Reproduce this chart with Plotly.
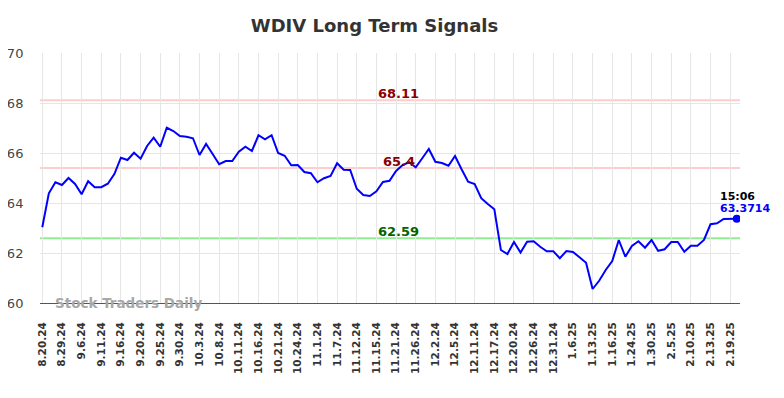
import plotly.graph_objects as go

tick_labels = ["8.20.24", "8.29.24", "9.6.24", "9.11.24", "9.16.24", "9.20.24", "9.25.24",
               "9.30.24", "10.3.24", "10.8.24", "10.11.24", "10.16.24", "10.21.24", "10.24.24",
               "11.1.24", "11.7.24", "11.12.24", "11.15.24", "11.21.24", "11.26.24", "12.2.24",
               "12.5.24", "12.11.24", "12.17.24", "12.20.24", "12.26.24", "12.31.24", "1.6.25",
               "1.13.25", "1.16.25", "1.24.25", "1.30.25", "2.5.25", "2.10.25", "2.13.25", "2.19.25"]

prices = [63.03, 64.39, 64.83, 64.72, 65.00, 64.76, 64.35, 64.87, 64.63, 64.63,
          64.77, 65.16, 65.81, 65.72, 66.01, 65.77, 66.28, 66.61, 66.25, 67.01,
          66.88, 66.68, 66.65, 66.59, 65.92, 66.36, 65.96, 65.55, 65.68, 65.68,
          66.05, 66.25, 66.08, 66.71, 66.55, 66.71, 66.00, 65.89, 65.51, 65.52,
          65.24, 65.19, 64.83, 64.99, 65.08, 65.59, 65.33, 65.32, 64.57, 64.32,
          64.28, 64.47, 64.84, 64.89, 65.28, 65.52, 65.63, 65.43, 65.79, 66.16,
          65.65, 65.60, 65.49, 65.88, 65.35, 64.85, 64.76, 64.19, 63.96, 63.75,
          62.12, 61.96, 62.44, 62.02, 62.45, 62.47, 62.25, 62.07, 62.07, 61.79,
          62.08, 62.04, 61.83, 61.61, 60.56, 60.89, 61.32, 61.68, 62.52, 61.85,
          62.28, 62.47, 62.21, 62.52, 62.09, 62.15, 62.44, 62.44, 62.05, 62.29,
          62.29, 62.52, 63.15, 63.19, 63.36, 63.36, 63.3714]

signal_levels = [68.11, 65.4, 62.59]
signal_colors = ["#ffcccc", "#ffcccc", "#90ee90"]
signal_text_colors = ["#8b0000", "#8b0000", "#006400"]
signal_labels = ["68.11", "65.4", "62.59"]

last_time = "15:06"
last_label = "63.3714"

x_idx = list(range(len(prices)))
tick_step = 3

fig = go.Figure()

for lvl, col in zip(signal_levels, signal_colors):
    fig.add_shape(type="line", xref="paper", x0=0, x1=1, yref="y", y0=lvl, y1=lvl,
                  line=dict(color=col, width=2), layer="below")

fig.add_trace(go.Scatter(x=x_idx, y=prices, mode="lines",
                         line=dict(color="#0000ff", width=2), hoverinfo="skip",
                         showlegend=False))
fig.add_trace(go.Scatter(x=[x_idx[-1]], y=[prices[-1]], mode="markers",
                         marker=dict(color="#0000ff", size=8), showlegend=False))

mid_x = 54.4
for lvl, lab, tc in zip(signal_levels, signal_labels, signal_text_colors):
    fig.add_annotation(x=mid_x, y=lvl, text=f"<b>{lab}</b>", showarrow=False,
                       yshift=7, font=dict(size=13, color=tc, family="DejaVu Sans"))

fig.add_annotation(x=x_idx[-1], y=prices[-1], text=f"<b>{last_time}</b>", showarrow=False,
                   yshift=22, xshift=1, font=dict(size=11, color="#000000", family="DejaVu Sans"))
fig.add_annotation(x=x_idx[-1], y=prices[-1], text=f"<b>{last_label}</b>", showarrow=False,
                   yshift=10, xshift=8, font=dict(size=11, color="#0000ff", family="DejaVu Sans"))

fig.add_annotation(xref="paper", yref="y", x=0.019, y=60, xanchor="left", yanchor="middle",
                   text="<b>Stock Traders Daily</b>", showarrow=False,
                   font=dict(size=13.5, color="#a8a8a8", family="DejaVu Sans"))

fig.update_layout(
    width=776, height=390,
    margin=dict(l=32, r=44, t=45, b=95),
    paper_bgcolor="white", plot_bgcolor="white",
    title=dict(text="<b>WDIV Long Term Signals</b>", x=0.4723, xanchor="center",
               y=0.954, yanchor="middle",
               font=dict(size=18, color="#333333", family="DejaVu Sans")),
    font=dict(family="DejaVu Sans"),
    xaxis=dict(range=[-0.35, 106.5], tickmode="array", automargin=False,
               tickvals=x_idx[::tick_step], ticktext=tick_labels, tickangle=-90,
               showgrid=True, gridcolor="#e6e6e6", gridwidth=1,
               showline=True, linecolor="#555555", linewidth=1,
               ticks="outside", ticklen=14, tickcolor="rgba(0,0,0,0)",
               tickfont=dict(size=10.5, color="#333333", family="DejaVu Sans", weight="bold"),
               zeroline=False),
    yaxis=dict(range=[60, 70], tickvals=[60, 62, 64, 66, 68, 70], automargin=False,
               showgrid=True, gridcolor="#e6e6e6", gridwidth=1,
               showline=False, zeroline=False,
               ticks="outside", ticklen=13, tickcolor="rgba(0,0,0,0)",
               tickfont=dict(size=13, color="#444444", family="DejaVu Sans")),
)

fig.write_html("out.html")
